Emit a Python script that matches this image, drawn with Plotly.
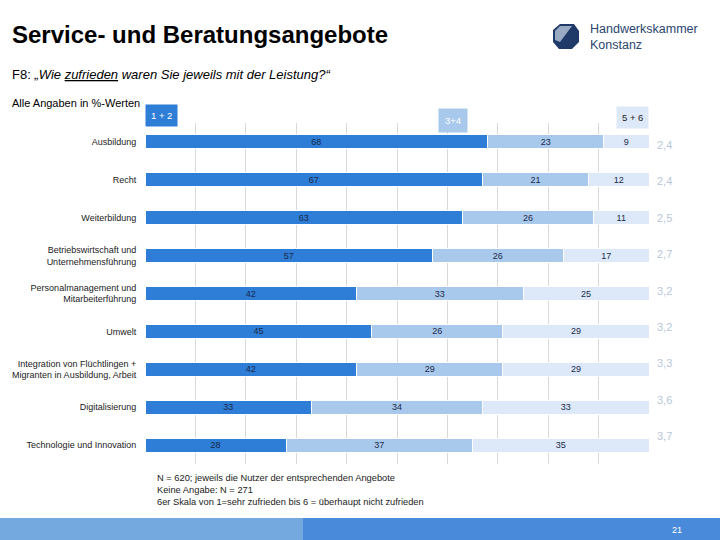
import plotly.graph_objects as go

categories = ["Ausbildung", "Recht", "Weiterbildung",
              "Betriebswirtschaft und<br>Unternehmensführung",
              "Personalmanagement und<br>Mitarbeiterführung",
              "Umwelt",
              "Integration von Flüchtlingen +<br>Migranten in Ausbildung, Arbeit",
              "Digitalisierung", "Technologie und Innovation"]
v12 = [68, 67, 63, 57, 42, 45, 42, 33, 28]
v34 = [23, 21, 26, 26, 33, 26, 29, 34, 37]
v56 = [9, 12, 11, 17, 25, 29, 29, 33, 35]
means = ["2,4", "2,4", "2,5", "2,7", "3,2", "3,2", "3,3", "3,6", "3,7"]
series_names = ["1 + 2", "3+4", "5 + 6"]

C1, C2, C3 = "#2E7DD6", "#A9C9EC", "#DDE9F8"
FONT = "Liberation Sans"
W, H = 720, 540

fig = go.Figure()
for vals, col, name in zip([v12, v34, v56], [C1, C2, C3], series_names):
    fig.add_trace(go.Bar(
        y=categories, x=vals, orientation="h", name=name,
        marker=dict(color=col, line=dict(color="white", width=1)),
        width=0.37, text=[str(v) for v in vals], textposition="inside",
        insidetextanchor="middle", constraintext="none", textangle=0,
        textfont=dict(family=FONT, size=9, color="#1A2A4A"),
        hoverinfo="skip"))

x0p, x1p = 145 / W, 649 / W
fig.update_layout(
    width=W, height=H, barmode="stack", showlegend=False,
    paper_bgcolor="white", plot_bgcolor="white",
    margin=dict(l=0, r=0, t=0, b=0),
    font=dict(family=FONT, color="#222222"),
    xaxis=dict(domain=[x0p, x1p], range=[0, 100], dtick=10, showgrid=True,
               gridcolor="#D9D9D9", gridwidth=1, showticklabels=False,
               zeroline=False, showline=False, fixedrange=True),
    yaxis=dict(domain=[1 - 464 / H, 1 - 123 / H], autorange="reversed",
               tickfont=dict(family=FONT, size=9, color="#222222"),
               ticks="outside", ticklen=6, tickcolor="rgba(0,0,0,0)",
               showgrid=False, zeroline=False, showline=False, fixedrange=True),
)

ann = []
# mean values
for i, m in enumerate(means):
    ann.append(dict(x=655 / W, xref="paper", y=categories[i], yref="y",
                    text=m, showarrow=False, xanchor="left", yanchor="middle",
                    yshift=-3 + 1.5 * i,
                    font=dict(family=FONT, size=11, color="#B8C7DA")))
# legend boxes
ann.append(dict(x=145 / W, y=1 - 104 / H, xref="paper", yref="paper", text="1 + 2",
                showarrow=False, xanchor="left", yanchor="top", bgcolor=C1,
                borderpad=5, font=dict(family=FONT, size=9.5, color="white")))
ann.append(dict(x=438 / W, y=1 - 108 / H, xref="paper", yref="paper", text="3+4",
                showarrow=False, xanchor="left", yanchor="top", bgcolor=C2,
                borderpad=6, font=dict(family=FONT, size=9.5, color="white")))
ann.append(dict(x=649 / W, y=1 - 106 / H, xref="paper", yref="paper", text="5 + 6",
                showarrow=False, xanchor="right", yanchor="top", bgcolor=C3,
                borderpad=5, font=dict(family=FONT, size=9.5, color="#222222")))
# titles
ann.append(dict(x=10 / W, y=1 - 34 / H, xref="paper", yref="paper",
                text="<b>Service- und Beratungsangebote</b>", showarrow=False,
                xanchor="left", yanchor="middle",
                font=dict(family=FONT, size=24, color="black")))
ann.append(dict(x=10 / W, y=1 - 75 / H, xref="paper", yref="paper",
                text="F8: <i>„Wie <u>zufrieden</u> waren Sie jeweils mit der Leistung?“</i>",
                showarrow=False, xanchor="left", yanchor="middle",
                font=dict(family=FONT, size=13, color="black")))
ann.append(dict(x=10 / W, y=1 - 103 / H, xref="paper", yref="paper",
                text="Alle Angaben in %-Werten", showarrow=False,
                xanchor="left", yanchor="middle",
                font=dict(family=FONT, size=11, color="black")))
ann.append(dict(x=588 / W, y=1 - 37 / H, xref="paper", yref="paper",
                text="Handwerkskammer<br>Konstanz", showarrow=False, align="left",
                xanchor="left", yanchor="middle",
                font=dict(family=FONT, size=12.5, color="#2B4570")))
# footnotes
ann.append(dict(x=155 / W, y=1 - 490 / H, xref="paper", yref="paper",
                text="N = 620; jeweils die Nutzer der entsprechenden Angebote<br>"
                     "Keine Angabe: N = 271<br>"
                     "6er Skala von 1=sehr zufrieden bis 6 = überhaupt nicht zufrieden",
                showarrow=False, align="left", xanchor="left", yanchor="middle",
                font=dict(family=FONT, size=9.3, color="#222222")))
ann.append(dict(x=677 / W, y=1 - 530 / H, xref="paper", yref="paper", text="21",
                showarrow=False, xanchor="center", yanchor="middle",
                font=dict(family=FONT, size=9, color="white")))
fig.update_layout(annotations=ann)

shapes = []
shapes.append(dict(type="rect", xref="paper", yref="paper", x0=0, x1=303 / W,
                   y0=0, y1=22 / H, fillcolor="#73A9DE", line=dict(width=0), layer="below"))
shapes.append(dict(type="rect", xref="paper", yref="paper", x0=303 / W, x1=1,
                   y0=0, y1=22 / H, fillcolor="#4A8ADA", line=dict(width=0), layer="below"))

# logo (approximate octagonal mark)
def px(x, y):
    return f"{x / W},{1 - y / H}"
outer = [(560, 24), (574, 24), (579, 31), (579, 42), (572, 49), (559, 49), (553, 42), (553, 30)]
path_outer = "M " + " L ".join(px(x, y) for x, y in outer) + " Z"
shapes.append(dict(type="path", xref="paper", yref="paper", path=path_outer,
                   fillcolor="#1F3A68", line=dict(width=0)))
inner = [(560, 26), (572, 26), (560, 42), (555, 40), (555, 31)]
path_inner = "M " + " L ".join(px(x, y) for x, y in inner) + " Z"
shapes.append(dict(type="path", xref="paper", yref="paper", path=path_inner,
                   fillcolor="#9AAAC2", line=dict(width=0)))
fig.update_layout(shapes=shapes)

fig.write_html("out.html", config={"displayModeBar": False, "staticPlot": True},
               post_script="document.body.style.margin='0';document.body.style.overflow='hidden';")
